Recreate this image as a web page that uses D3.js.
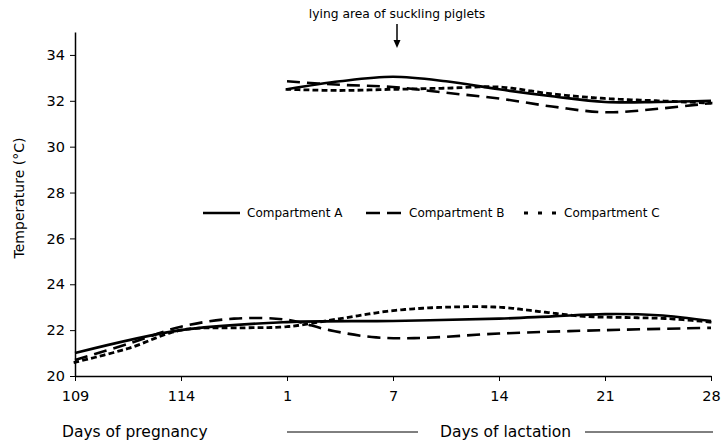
<!DOCTYPE html>
<html>
<head>
<meta charset="utf-8">
<script src="https://cdn.jsdelivr.net/npm/d3@7"></script>
<style>
  body { margin: 0; background: #fff; }
  svg { display: block; }
  text { font-family: "DejaVu Sans", Verdana, sans-serif; fill: #000; }
</style>
</head>
<body>
<svg id="chart" width="722" height="444"></svg>
<script>
// ---- data ----
const tickLabels = ["109", "114", "1", "7", "14", "21", "28"];
const tickPositions = [0, 1, 2, 3, 4, 5, 6];
const yTicks = [20, 22, 24, 26, 28, 30, 32, 34];

// Lower group: room temperature (pregnancy + lactation)
const lowerPosA = [0, 1, 2, 3, 4, 4.5, 5, 5.5, 6];
const lowerA    = [21.0, 22.0, 22.35, 22.4, 22.5, 22.6, 22.7, 22.65, 22.4];
const lowerPosB = [0, 0.5, 1, 1.5, 2, 2.4, 2.8, 3.2, 4, 5, 6];
const lowerB    = [20.7, 21.4, 22.15, 22.5, 22.45, 22.0, 21.7, 21.65, 21.85, 22.0, 22.1];
const lowerPosC = [0, 0.5, 1, 1.6, 2, 2.5, 3, 3.5, 4, 4.4, 4.8, 5.2, 5.6, 6];
const lowerC    = [20.6, 21.2, 22.0, 22.1, 22.15, 22.5, 22.85, 23.0, 23.0, 22.8, 22.6, 22.55, 22.5, 22.35];

// Upper group: lying area of suckling piglets (lactation)
const upperPos = [2, 2.5, 3, 3.5, 4, 4.5, 5, 5.5, 6];
const upperA   = [32.5, 32.85, 33.05, 32.85, 32.5, 32.2, 31.95, 31.95, 32.0];
const upperB   = [32.85, 32.7, 32.6, 32.35, 32.1, 31.75, 31.5, 31.65, 31.9];
const upperC   = [32.5, 32.45, 32.5, 32.55, 32.6, 32.3, 32.1, 32.0, 31.9];

const seriesNames = ["Compartment A", "Compartment B", "Compartment C"];

// ---- layout ----
const svg = d3.select("#chart");
const x = d3.scaleLinear().domain([0, 6]).range([75, 711]);
const y = d3.scaleLinear().domain([20, 35]).range([376, 32]);

const styles = [
  { dash: null, width: 2.6 },
  { dash: "13,7", width: 2.6 },
  { dash: "3,6", width: 2.8 }
];

const line = d3.line().x(d => x(d[0])).y(d => y(d[1])).curve(d3.curveCatmullRom.alpha(0.5));

function drawSeries(pos, vals, s) {
  svg.append("path")
    .datum(pos.map((p, i) => [p, vals[i]]))
    .attr("d", line)
    .attr("fill", "none")
    .attr("stroke", "#000")
    .attr("stroke-width", styles[s].width)
    .attr("stroke-dasharray", styles[s].dash)
    .attr("stroke-linecap", s === 2 ? "square" : "butt");
}

drawSeries(lowerPosA, lowerA, 0);
drawSeries(lowerPosB, lowerB, 1);
drawSeries(lowerPosC, lowerC, 2);
drawSeries(upperPos, upperA, 0);
drawSeries(upperPos, upperB, 1);
drawSeries(upperPos, upperC, 2);

// ---- axes ----
const xAxis = d3.axisBottom(x).tickValues(tickPositions)
  .tickFormat((d, i) => tickLabels[i]).tickSize(5).tickSizeOuter(0).tickPadding(10);
const gx = svg.append("g").attr("transform", `translate(0,${y(20)})`).call(xAxis);
gx.selectAll("text").attr("font-size", 14.5).attr("font-family", "DejaVu Sans");
gx.select(".domain").attr("stroke-width", 1.5);

const yAxis = d3.axisLeft(y).tickValues(yTicks).tickSize(5).tickSizeOuter(0).tickPadding(5);
const gy = svg.append("g").attr("transform", `translate(${x(0)},0)`).call(yAxis);
gy.selectAll("text").attr("font-size", 14.5).attr("font-family", "DejaVu Sans");
gy.select(".domain").attr("stroke-width", 1.5);

// y title
svg.append("text")
  .attr("transform", `translate(24,198) rotate(-90)`)
  .attr("text-anchor", "middle")
  .attr("font-size", 14)
  .text("Temperature (°C)");

// annotation
svg.append("text").attr("x", x(3) + 4).attr("y", 18).attr("text-anchor", "middle")
  .attr("font-size", 12.3).text("lying area of suckling piglets");
svg.append("line").attr("x1", x(3) + 4).attr("x2", x(3) + 4).attr("y1", 24).attr("y2", 42)
  .attr("stroke", "#000").attr("stroke-width", 1.5);
svg.append("path")
  .attr("d", `M${x(3) + 0.5},40 L${x(3) + 7.5},40 L${x(3) + 4},48 Z`)
  .attr("fill", "#000");

// legend
const legendItems = [
  { x0: 203, x1: 240, tx: 247 },
  { x0: 366, x1: 402, tx: 409 },
  { x0: 524, x1: 557, tx: 564 }
];
legendItems.forEach((it, i) => {
  svg.append("line").attr("x1", it.x0).attr("x2", it.x1).attr("y1", 213).attr("y2", 213)
    .attr("stroke", "#000").attr("stroke-width", styles[i].width)
    .attr("stroke-dasharray", i === 1 ? "14,7" : (i === 2 ? "4,10" : null));
  svg.append("text").attr("x", it.tx).attr("y", 217).attr("font-size", 12)
    .text(seriesNames[i]);
});

// bottom period labels
svg.append("text").attr("x", 62).attr("y", 437).attr("font-size", 15.5).text("Days of pregnancy");
svg.append("line").attr("x1", 287).attr("x2", 418).attr("y1", 432).attr("y2", 432)
  .attr("stroke", "#000").attr("stroke-width", 1);
svg.append("text").attr("x", 440).attr("y", 437).attr("font-size", 15.5).text("Days of lactation");
svg.append("line").attr("x1", 585).attr("x2", 713).attr("y1", 432).attr("y2", 432)
  .attr("stroke", "#000").attr("stroke-width", 1);
</script>
</body>
</html>
